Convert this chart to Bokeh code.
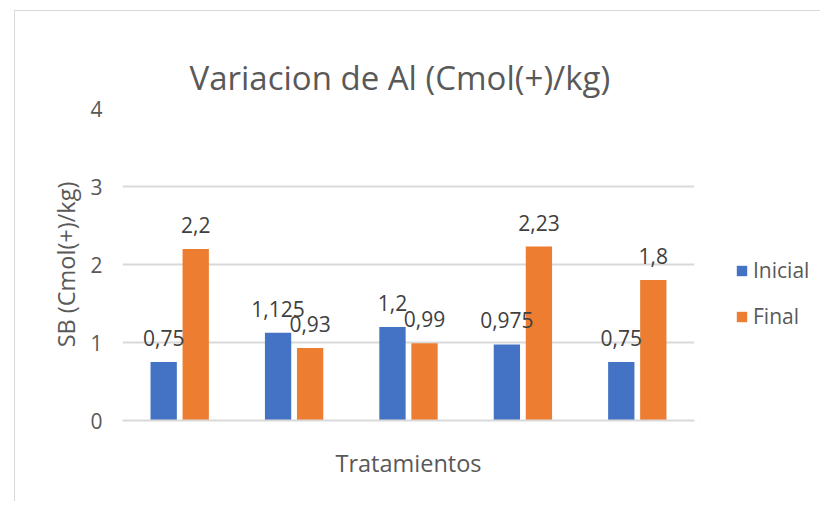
from bokeh.plotting import figure
from bokeh.layouts import row
from bokeh.models import ColumnDataSource, FactorRange, Range1d, Legend, LegendItem, FixedTicker
from bokeh.transform import dodge
from bokeh.core.properties import value
from bokeh.embed import file_html
from bokeh.resources import INLINE

tratamientos = ["T1", "T2", "T3", "T4", "T5"]
inicial = [0.75, 1.125, 1.2, 0.975, 0.75]
final = [2.2, 0.93, 0.99, 2.23, 1.8]
y_ticks = [0, 1, 2, 3, 4]
series_names = ["Inicial", "Final"]

FONT = "Open Sans"
TXT = "#595959"
LBL = "#404040"
BLUE = "#4472C4"
ORANGE = "#ED7D31"

def fmt(v):
    return str(v).replace(".", ",")

src = ColumnDataSource(dict(
    t=tratamientos,
    inicial=inicial,
    final=final,
    inicial_lbl=[fmt(v) for v in inicial],
    final_lbl=[fmt(v) for v in final],
))

p = figure(width=685, height=490, x_range=FactorRange(*tratamientos, range_padding=0),
           y_range=Range1d(0, 4), output_backend="svg", toolbar_location=None,
           min_border_left=107, min_border_right=6, min_border_top=97, min_border_bottom=81,
           title="Variacion de Al (Cmol(+)/kg)")
p.outline_line_color = None
p.background_fill_color = "white"
p.border_fill_color = "white"

p.title.align = "left"
p.title.offset = 67
p.title.standoff = 18
p.title.text_font = FONT
p.title.text_font_size = "33px"
p.title.text_font_style = "normal"
p.title.text_color = TXT

r1 = p.vbar(x=dodge("t", -0.14, range=p.x_range), top="inicial", width=0.23, source=src,
            fill_color=BLUE, line_color=None)
r2 = p.vbar(x=dodge("t", 0.14, range=p.x_range), top="final", width=0.23, source=src,
            fill_color=ORANGE, line_color=None)

for col, off in (("inicial_lbl", -0.14), ("final_lbl", 0.14)):
    p.text(x=dodge("t", off, range=p.x_range), y=col.replace("_lbl", ""), text=col, source=src,
           text_align="center", text_baseline="alphabetic", y_offset=-24,
           text_font=value(FONT), text_font_size="21px", text_color=LBL)

# axes
p.yaxis.ticker = FixedTicker(ticks=y_ticks)
p.yaxis.axis_line_color = None
p.yaxis.major_tick_line_color = None
p.yaxis.major_tick_out = 0
p.yaxis.minor_tick_line_color = None
p.yaxis.major_label_text_font = FONT
p.yaxis.major_label_text_font_size = "21px"
p.yaxis.major_label_text_color = TXT
p.yaxis.major_label_standoff = 20
p.yaxis.axis_label = "SB (Cmol(+)/kg)"
p.yaxis.axis_label_text_font = FONT
p.yaxis.axis_label_text_font_size = "23.5px"
p.yaxis.axis_label_text_font_style = "normal"
p.yaxis.axis_label_text_color = TXT
p.yaxis.axis_label_standoff = 5

p.xaxis.ticker = FixedTicker(ticks=[])
p.xaxis.axis_line_color = "#D9D9D9"
p.xaxis.axis_line_width = 2
p.xaxis.major_tick_line_color = None
p.xaxis.major_tick_out = 0
p.xaxis.minor_tick_line_color = None
p.xaxis.major_label_standoff = 0
p.xaxis.axis_label = "Tratamientos"
p.xaxis.axis_label_text_font = FONT
p.xaxis.axis_label_text_font_size = "23.5px"
p.xaxis.axis_label_text_font_style = "normal"
p.xaxis.axis_label_text_color = TXT
p.xaxis.axis_label_standoff = 26

p.xgrid.grid_line_color = None
p.ygrid.grid_line_color = "#D9D9D9"
p.ygrid.grid_line_width = 2

# legend panel (legend swatches use zero-height bars kept outside its view)
lp = figure(width=120, height=490, output_backend="svg", toolbar_location=None,
            x_range=Range1d(10, 11), y_range=Range1d(10, 11),
            min_border=0, x_axis_location=None, y_axis_location=None)
lp.outline_line_color = None
lp.grid.grid_line_color = None
lp.border_fill_color = "white"
lp.background_fill_color = "white"
lr1 = lp.vbar(x=[0], top=[0], width=1, fill_color=BLUE, line_color=None)
lr2 = lp.vbar(x=[0], top=[0], width=1, fill_color=ORANGE, line_color=None)
legend = Legend(items=[LegendItem(label=series_names[0], renderers=[lr1]),
                       LegendItem(label=series_names[1], renderers=[lr2])],
                location=(35, 90), orientation="vertical",
                glyph_width=13, glyph_height=13, label_height=20, spacing=18,
                label_text_font=FONT, label_text_font_size="21px", label_text_color=TXT,
                label_standoff=5, padding=0, margin=0, border_line_color=None,
                background_fill_alpha=0)
lp.add_layout(legend)

layout = row(p, lp, styles={"margin-left": "14px", "margin-top": "10px",
                            "border-left": "1px solid #D9D9D9",
                            "border-top": "1px solid #D9D9D9"})
open("out.html", "w").write(file_html(layout, INLINE))
